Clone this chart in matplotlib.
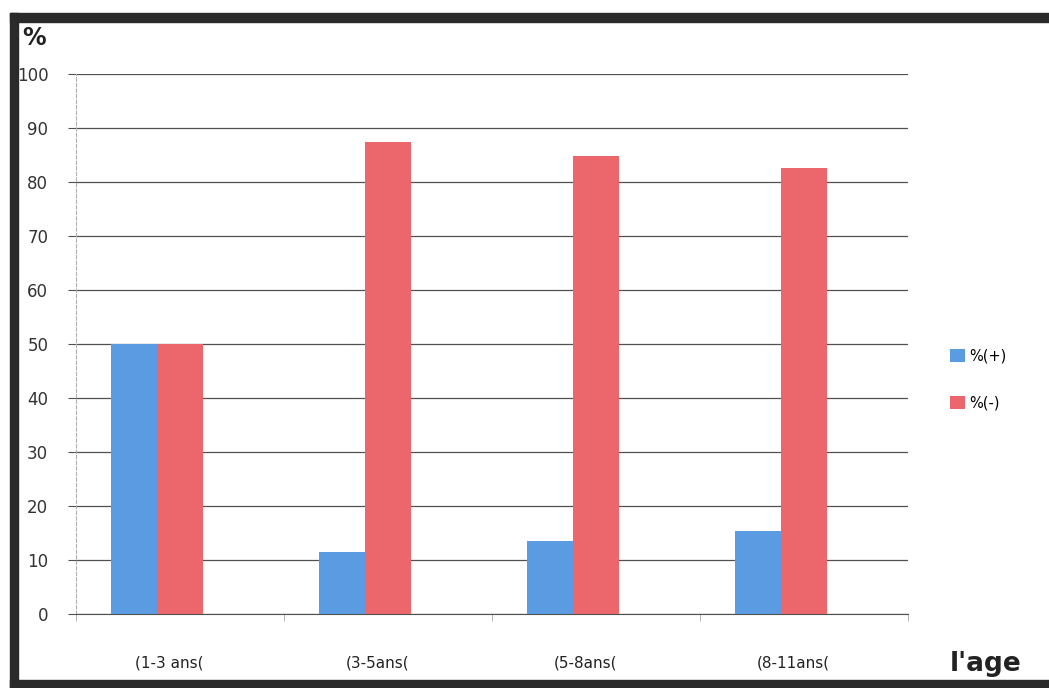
import numpy as np
import matplotlib.pyplot as plt
from matplotlib.patches import Rectangle

categories = ["(1-3 ans(", "(3-5ans(", "(5-8ans(", "(8-11ans("]
pct_plus = [50, 11.5, 13.5, 15.4]
pct_minus = [50, 87.4, 84.8, 82.6]
y_ticks = list(range(0, 101, 10))

blue = "#5a9be2"
red = "#ec676c"

fig = plt.figure(figsize=(10.49, 6.88), dpi=100)
ax = fig.add_axes([0.0725, 0.1076, 0.793, 0.7848])

x = np.arange(len(categories))
w = 0.221
shift = -0.11  # the groups sit a bit left of the category centres
ax.bar(x + shift - w / 2, pct_plus, width=w, color=blue, label="%(+)", zorder=3)
ax.bar(x + shift + w / 2, pct_minus, width=w, color=red, label="%(-)", zorder=3)

ax.set_xlim(-0.5, len(categories) - 0.5)
ax.set_ylim(0, 100)
ax.set_yticks(y_ticks)
ax.set_yticklabels([str(v) for v in y_ticks], fontsize=12, color="#333333")
ax.yaxis.grid(True, color="#505050", linewidth=0.9, zorder=0)
ax.tick_params(axis="y", length=6, color="#505050", pad=14)

ax.set_xticks(x - 0.05)
ax.set_xticklabels(categories, fontsize=11, color="#222222")
ax.tick_params(axis="x", length=0, pad=30)
ax.set_xticks(np.arange(-0.5, len(categories)), minor=True)
ax.tick_params(axis="x", which="minor", length=5, color="#aaaaaa")

for s in ["top", "right"]:
    ax.spines[s].set_visible(False)
ax.spines["left"].set_color("#b0b0b0")
ax.spines["left"].set_linestyle((0, (3, 2)))
ax.spines["bottom"].set_color("#505050")

ax.legend(loc="center left", bbox_to_anchor=(1.035, 0.435), frameon=False,
          fontsize=10.5, handlelength=1.0, handleheight=1.0, labelspacing=2.2,
          handletextpad=0.3)

fig.text(0.021, 0.935, "%", fontsize=17, fontweight="bold", color="#222222")
fig.text(0.905, 0.025, "l'age", fontsize=19, fontweight="bold", color="#222222")

# dark frame of the scanned picture (top, left, bottom)
fig.patches.append(Rectangle((10 / 1049, 1 - 22 / 688), 1, 9 / 688, transform=fig.transFigure,
                             color="#2a2a2a", zorder=10))
fig.patches.append(Rectangle((10 / 1049, 0), 8 / 1049, 1 - 13 / 688, transform=fig.transFigure,
                             color="#2a2a2a", zorder=10))
fig.patches.append(Rectangle((10 / 1049, 0), 1, 8 / 688, transform=fig.transFigure,
                             color="#2a2a2a", zorder=10))

fig.savefig("out.png", dpi=100)
